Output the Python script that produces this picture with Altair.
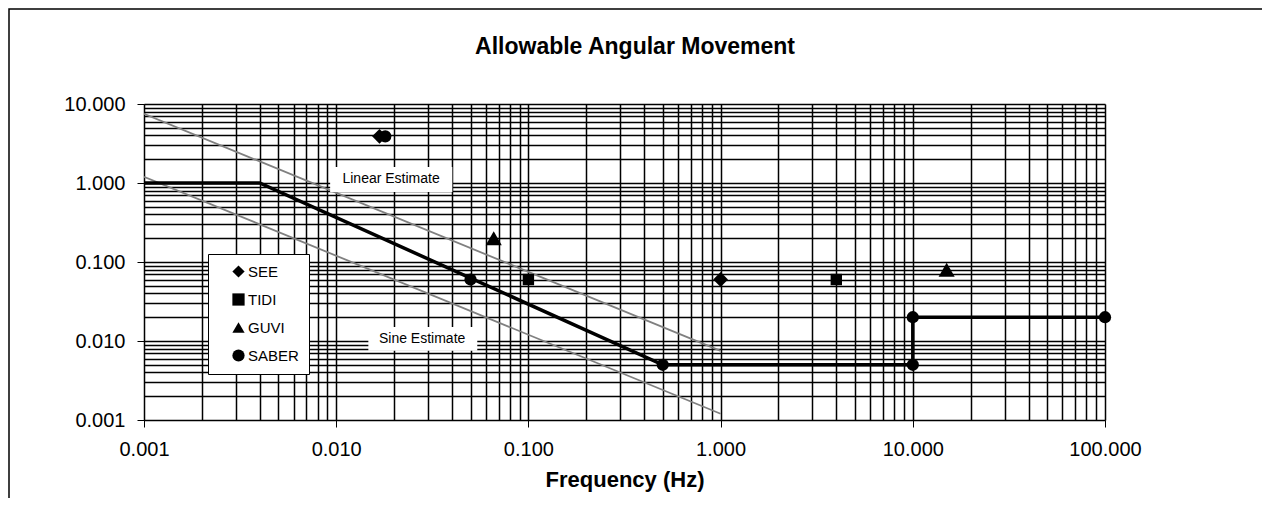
import altair as alt
import pandas as pd

# ---- data ----
series = ["SEE", "SEE", "TIDI", "TIDI", "GUVI", "GUVI",
          "SABER", "SABER", "SABER", "SABER", "SABER", "SABER"]
freq = [0.0168, 1.0, 0.1, 4.0, 0.066, 15.0,
        0.018, 0.05, 0.5, 10.0, 10.0, 100.0]
angle = [3.9, 0.06, 0.06, 0.06, 0.2, 0.08,
         3.9, 0.06, 0.005, 0.005, 0.02, 0.02]

req_freq = [0.001, 0.004, 0.5, 10.0, 10.0, 100.0]
req_angle = [1.0, 1.0, 0.005, 0.005, 0.02, 0.02]

est_name = ["Linear", "Linear", "Sine", "Sine"]
est_freq = [0.001, 1.0, 0.001, 1.0]
est_angle = [7.5, 0.0075, 1.2, 0.0012]

ann_text = ["Linear Estimate", "Sine Estimate"]
ann_x = [0.0193, 0.028]
ann_y = [1.12, 0.0106]
ann_x1 = [0.0093, 0.0147]
ann_x2 = [0.0402, 0.0542]
ann_y1 = [0.77, 0.0075]
ann_y2 = [1.59, 0.0150]

TITLE = "Allowable Angular Movement"
x_labels = ["0.001", "0.010", "0.100", "1.000", "10.000", "100.000"]
y_labels = ["0.001", "0.010", "0.100", "1.000", "10.000"]

x_grid = [round(m * 10.0 ** k, 6) for k in range(-3, 2) for m in range(1, 10)] + [100.0]
y_grid = [round(m * 10.0 ** k, 6) for k in range(-3, 1) for m in range(1, 10)] + [10.0]
x_major = [0.001, 0.01, 0.1, 1.0, 10.0, 100.0]
y_major = [0.001, 0.01, 0.1, 1.0, 10.0]

series_order = ["SEE", "TIDI", "GUVI", "SABER"]
series_shape = ["diamond", "square", "triangle-up", "circle"]

FONT = "Liberation Sans"

pts = pd.DataFrame({"series": series, "f": freq, "a": angle})
req = pd.DataFrame({"f": req_freq, "a": req_angle, "i": list(range(len(req_freq)))})
est = pd.DataFrame({"name": est_name, "f": est_freq, "a": est_angle})
ann = pd.DataFrame({"t": ann_text, "x": ann_x, "y": ann_y,
                    "x1": ann_x1, "x2": ann_x2, "y1": ann_y1, "y2": ann_y2})


def lab_expr(labels):
    arr = ",".join("'%s'" % s for s in labels)
    return "indexof([%s], datum.label) >= 0 ? datum.label : ''" % arr


def tick_cond(vals):
    arr = ",".join(repr(v) for v in vals)
    return {"condition": {"test": "indexof([%s], datum.value) >= 0" % arr,
                          "value": "black"},
            "value": "transparent"}


xscale = alt.Scale(type="log", domain=[0.001, 100], nice=False)
yscale = alt.Scale(type="log", domain=[0.001, 10], nice=False)

xaxis = alt.Axis(values=x_grid, format=".3f", labelExpr=lab_expr(x_labels),
                 grid=True, gridColor="black", gridWidth=1.5, gridOpacity=1,
                 tickColor=tick_cond(x_major), tickSize=7, labelPadding=12,
                 labelFont=FONT, labelFontSize=20, labelColor="black",
                 labelOverlap=False, labelFlush=False,
                 domainColor="black", title="Frequency (Hz)",
                 titleFont=FONT, titleFontSize=22, titleFontWeight="bold",
                 titleColor="black", titlePadding=10)
yaxis = alt.Axis(values=y_grid, format=".3f", labelExpr=lab_expr(y_labels),
                 grid=True, gridColor="black", gridWidth=1.5, gridOpacity=1,
                 tickColor=tick_cond(y_major), tickSize=7, labelPadding=12,
                 labelFont=FONT, labelFontSize=20, labelColor="black",
                 labelOverlap=False, labelFlush=False,
                 domainColor="black", title=None)

base_x = alt.X("f:Q", scale=xscale, axis=xaxis)
base_y = alt.Y("a:Q", scale=yscale, axis=yaxis)

border = alt.Chart(alt.Data(values=[{}])).mark_rect(
    fill="white", fillOpacity=0, stroke="black", strokeWidth=1.5
).encode(x=alt.value(-135), x2=alt.value(1119), y=alt.value(-95), y2=alt.value(600))

title = alt.Chart(alt.Data(values=[{"t": TITLE}])).mark_text(
    font=FONT, fontSize=23, fontWeight="bold", color="black",
    align="center", baseline="middle"
).encode(x=alt.value(491), y=alt.value(-57), text="t:N")

est_lines = alt.Chart(est).mark_line(color="#808080", strokeWidth=1.8, clip=True).encode(
    x=base_x, y=base_y, detail="name:N")

boxes = alt.Chart(ann).mark_rect(fill="white", stroke=None).encode(
    x=alt.X("x1:Q", scale=xscale), x2="x2:Q",
    y=alt.Y("y1:Q", scale=yscale), y2="y2:Q")

texts = alt.Chart(ann).mark_text(font=FONT, fontSize=14, color="black").encode(
    x=alt.X("x:Q", scale=xscale), y=alt.Y("y:Q", scale=yscale), text="t:N")

req_line = alt.Chart(req).mark_line(color="black", strokeWidth=3.5).encode(
    x=base_x, y=base_y, order="i:Q")

legend = alt.Legend(orient="none", legendX=64, legendY=150, title=None,
                    fillColor="white", strokeColor="black", padding=10,
                    symbolOffset=13, symbolFillColor="black",
                    symbolStrokeWidth=0, symbolSize=150,
                    labelFont=FONT, labelFontSize=15, labelColor="black",
                    labelOffset=2, rowPadding=12,
                    labelExpr="datum.label + '     '")

points = alt.Chart(pts).mark_point(filled=True, opacity=1, color="black").transform_calculate(
    sz="datum.series == 'GUVI' ? 260 : (datum.series == 'SEE' ? 220 : (datum.series == 'TIDI' ? 130 : 150))"
).encode(
    x=base_x, y=base_y,
    shape=alt.Shape("series:N",
                    scale=alt.Scale(domain=series_order, range=series_shape),
                    legend=legend),
    size=alt.Size("sz:Q", scale=None, legend=None))

chart = alt.layer(border, title, est_lines, boxes, texts, req_line, points).properties(
    width=961, height=316,
    autosize=alt.AutoSizeParams(type="none"),
    padding={"left": 136, "top": 96, "right": 157, "bottom": 78},
).configure_view(stroke="#808080", strokeWidth=2).configure(background="white")

chart.save("out.html", embed_options={"renderer": "svg", "actions": False})
